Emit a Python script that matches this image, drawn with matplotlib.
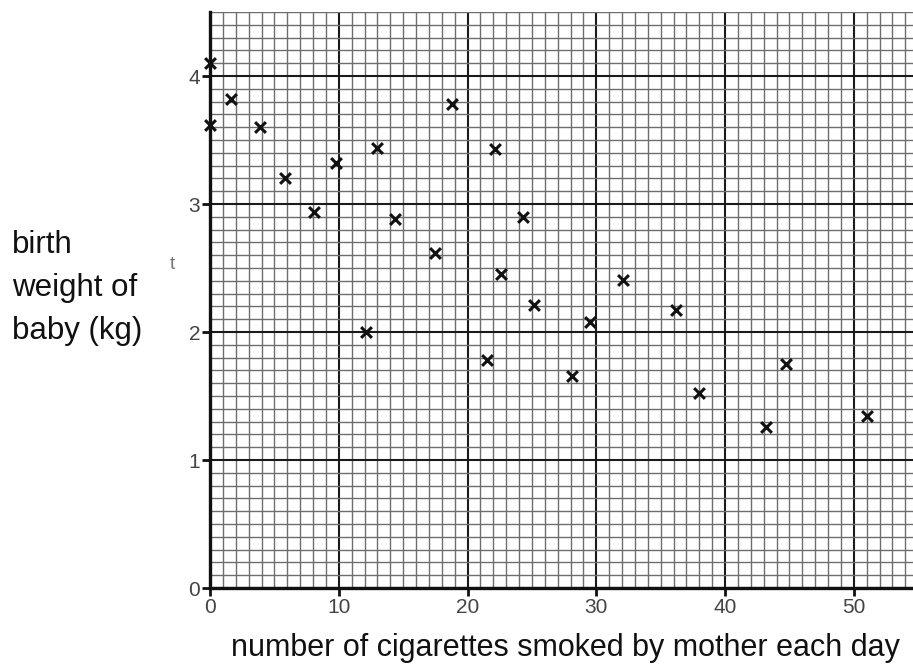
import matplotlib.pyplot as plt
from matplotlib.ticker import MultipleLocator

# cigarettes per day vs birth weight
cigarettes = [0, 0, 1.6, 3.9, 5.8, 8.1, 9.8, 12.1, 13.0, 14.4, 17.5, 18.8, 21.5,
              22.1, 22.6, 24.3, 25.2, 28.1, 29.5, 32.1, 36.2, 38.0, 43.2, 44.7, 51.0]
weight = [4.10, 3.62, 3.82, 3.60, 3.20, 2.94, 3.32, 2.00, 3.44, 2.88, 2.62, 3.78, 1.78,
          3.43, 2.45, 2.90, 2.21, 1.66, 2.08, 2.41, 2.17, 1.52, 1.26, 1.75, 1.34]
x_ticks = [0, 10, 20, 30, 40, 50]
y_ticks = [0, 1, 2, 3, 4]

plt.rcParams['font.family'] = ['Liberation Sans', 'DejaVu Sans']

fig = plt.figure(figsize=(9.13, 6.7), dpi=100)
ax = fig.add_axes([210/913, 82/670, 703/913, 576/670])

ax.set_xlim(0, 54.6)
ax.set_ylim(0, 4.5)

# graph paper
ax.xaxis.set_minor_locator(MultipleLocator(1))
ax.yaxis.set_minor_locator(MultipleLocator(0.1))
ax.set_xticks(x_ticks)
ax.set_yticks(y_ticks)
ax.grid(which='minor', color='#6e6e6e', linewidth=1.0)
ax.grid(which='major', color='#1a1a1a', linewidth=1.5)
ax.set_axisbelow(True)

ax.scatter(cigarettes, weight, marker='x', s=60, color='#111111',
           linewidths=2.2, zorder=5, clip_on=False)

for side in ['top', 'right']:
    ax.spines[side].set_visible(False)
for side in ['left', 'bottom']:
    ax.spines[side].set_linewidth(2.4)
    ax.spines[side].set_color('#111111')

ax.tick_params(which='major', length=6, width=2, color='#111111',
               labelsize=15, labelcolor='#444444', pad=1)
ax.tick_params(which='minor', length=0)

fig.text(12/913, 1 - 288/670, 'birth\nweight of\nbaby (kg)', fontsize=22.5,
         ha='left', va='center', linespacing=1.55, color='#111111')
fig.text(172/913, 1 - 265/670, 't', fontsize=14, color='#777777',
         ha='center', va='center')
fig.text(565/913, 1 - 648/670, 'number of cigarettes smoked by mother each day',
         fontsize=22, ha='center', va='center', color='#111111')

fig.savefig('out.png', dpi=100)
